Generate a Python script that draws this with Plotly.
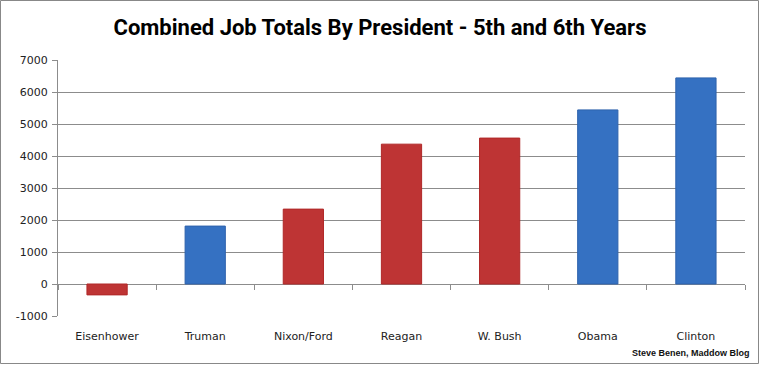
import plotly.graph_objects as go

presidents = ["Eisenhower", "Truman", "Nixon/Ford", "Reagan", "W. Bush", "Obama", "Clinton"]
job_totals = [-340, 1810, 2340, 4370, 4560, 5440, 6440]
party = ["R", "D", "R", "R", "R", "D", "D"]
y_ticks = [-1000, 0, 1000, 2000, 3000, 4000, 5000, 6000, 7000]

party_colors = {"R": "#BE3434", "D": "#3571C2"}
party_lines = {"R": "#B02828", "D": "#2E62AC"}

W, H = 760, 365
ml, mr, mt, mb = 58, 15, 60, 49

fig = go.Figure()
fig.add_trace(go.Bar(
    x=presidents, y=job_totals,
    marker=dict(color=[party_colors[p] for p in party],
                line=dict(color=[party_lines[p] for p in party], width=1)),
    width=0.41, hoverinfo="x+y", showlegend=False,
))
# invisible trace for the zero-line category axis
fig.add_trace(go.Scatter(x=presidents, y=[0] * len(presidents), xaxis="x2",
                         mode="markers", marker=dict(opacity=0), showlegend=False,
                         hoverinfo="skip"))

ymin, ymax = min(y_ticks), max(y_ticks)
fig.update_layout(
    width=W, height=H,
    margin=dict(l=ml, r=mr, t=mt, b=mb),
    paper_bgcolor="white", plot_bgcolor="white",
    title=dict(text="<b>Combined Job Totals By President - 5th and 6th Years</b>",
               x=0.5, xanchor="center", y=1 - 27 / H, yanchor="middle",
               font=dict(family="Roboto, Arial, sans-serif", size=22, color="black")),
    xaxis=dict(categoryorder="array", categoryarray=presidents,
               showline=False, showgrid=False, ticks="",
               tickfont=dict(family="DejaVu Sans, Verdana, sans-serif", size=11, color="#222"),
               ticklabelstandoff=12, range=[-0.5, len(presidents) - 0.5]),
    xaxis2=dict(overlaying="x", anchor="free",
                position=(0 - ymin) / (ymax - ymin),
                categoryorder="array", categoryarray=presidents,
                showline=True, linecolor="#8c8c8c", linewidth=1,
                ticks="outside", ticklen=5, tickcolor="#8c8c8c", tickson="boundaries",
                showticklabels=False, showgrid=False, side="bottom",
                layer="below traces",
                range=[-0.5, len(presidents) - 0.5]),
    yaxis=dict(range=[ymin, ymax], tickvals=y_ticks, ticktext=[str(v) for v in y_ticks],
               showgrid=True, gridcolor="#8c8c8c", gridwidth=1,
               zeroline=False,
               showline=True, linecolor="#8c8c8c", linewidth=1,
               ticks="outside", ticklen=5, tickcolor="#8c8c8c",
               tickfont=dict(family="DejaVu Sans, Verdana, sans-serif", size=11, color="#222"),
               ticklabelstandoff=2),
    bargap=0.59,
)

pw = W - ml - mr
ph = H - mt - mb
fig.add_annotation(text="<b>Steve Benen, Maddow Blog</b>", xref="paper", yref="paper",
                   x=(W - 8 - ml) / pw, y=-(H - 5 - (H - mb)) / ph,
                   xanchor="right", yanchor="bottom", showarrow=False,
                   font=dict(family="Liberation Sans, Arial, sans-serif", size=9, color="#111"))
fig.add_shape(type="rect", xref="paper", yref="paper",
              x0=-(ml - 0.5) / pw, x1=1 + (mr - 1.5) / pw,
              y0=-(mb - 1.5) / ph, y1=1 + (mt - 0.5) / ph,
              line=dict(color="#888888", width=1), layer="below")

fig.write_html("out.html", config={"displayModeBar": False},
               post_script="document.body.style.margin='0';document.body.style.overflow='hidden';")
